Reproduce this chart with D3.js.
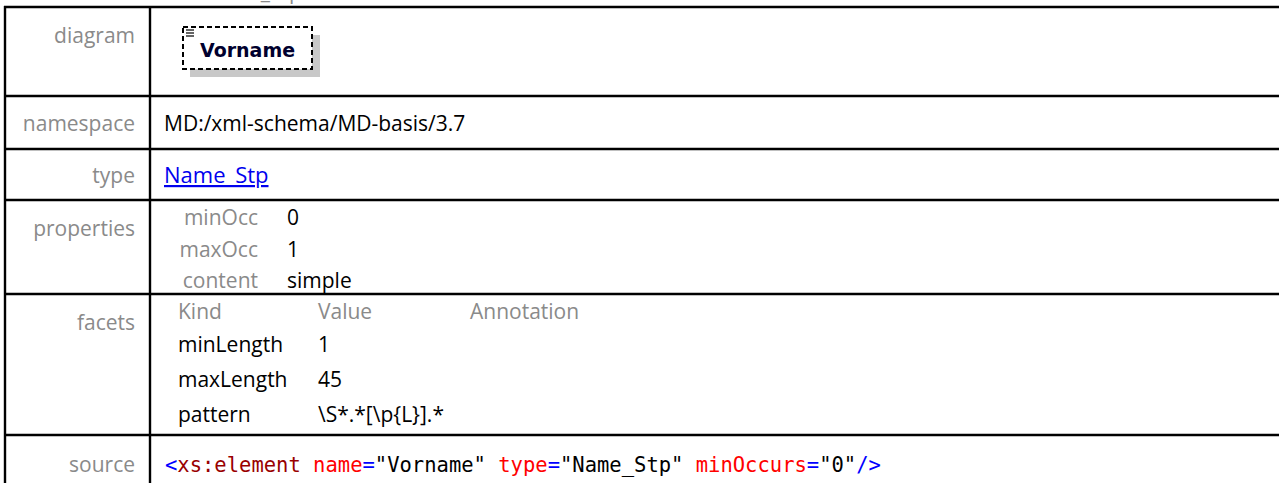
<!DOCTYPE html>
<html><head><meta charset="utf-8">
<script src="https://cdn.jsdelivr.net/npm/d3@7"></script>
<style>html,body{margin:0;padding:0;background:#fff;overflow:hidden}</style>
</head><body>
<svg id="c" width="1279" height="483"></svg>
<script>
// ---- data ----
const titleText = "element Personendaten_Stp/Name/Vorname";
const rowLabels = ["diagram", "namespace", "type", "properties", "facets", "source"];
const elementName = "Vorname";
const namespaceValue = "MD:/xml-schema/MD-basis/3.7";
const typeValue = "Name_Stp";
const propNames = ["minOcc", "maxOcc", "content"];
const propValues = ["0", "1", "simple"];
const facetHeaders = ["Kind", "Value", "Annotation"];
const facetKinds = ["minLength", "maxLength", "pattern"];
const facetValues = ["1", "45", "\\S*.*[\\p{L}].*"];
const sourceTokens = [
  ["<", "sym"], ["xs:element", "tag"], [" ", "txt"], ["name", "attr"], ["=", "sym"], ["\"Vorname\"", "txt"],
  [" ", "txt"], ["type", "attr"], ["=", "sym"], ["\"Name_Stp\"", "txt"], [" ", "txt"],
  ["minOccurs", "attr"], ["=", "sym"], ["\"0\"", "txt"], ["/>", "sym"]
];

// ---- layout ----
const W = 1279, H = 483;
const rowEdges = [7, 96, 149, 200, 294, 435];
const labelBase = [43, 131, 183, 236, 330, 472];
const yRow = d3.scaleOrdinal(rowLabels, rowEdges);
const yBase = d3.scaleOrdinal(rowLabels, labelBase);
const xLeft = 5, xDiv = 150, xLabelRight = 135, xVal = 164;
const font = "'Open Sans', sans-serif";
const grey = "#8a8a8a";
const codeColor = {sym: "#0000ff", tag: "#990000", attr: "#ff0000", txt: "#000000"};

const svg = d3.select("#c");
svg.append("rect").attr("width", W).attr("height", H).attr("fill", "#fff");

// title fragment (cut off at top, as in the reference)
svg.append("text").attr("x", 25).attr("y", -1).attr("font-family", font).attr("font-size", 21)
  .attr("fill", grey).text(titleText);

// grid lines
const g = svg.append("g").attr("stroke", "#000").attr("stroke-width", 2.4);
g.selectAll("line.h").data(rowLabels).join("line").attr("class", "h")
  .attr("x1", xLeft - 1).attr("x2", W).attr("y1", d => yRow(d)).attr("y2", d => yRow(d));
g.append("line").attr("x1", xLeft).attr("x2", xLeft).attr("y1", rowEdges[0] - 1).attr("y2", H);
g.append("line").attr("x1", xDiv).attr("x2", xDiv).attr("y1", rowEdges[0] - 1).attr("y2", H);

// row labels
svg.selectAll("text.lbl").data(rowLabels).join("text").attr("class", "lbl")
  .attr("x", xLabelRight).attr("y", d => yBase(d)).attr("text-anchor", "end")
  .attr("font-family", font).attr("font-size", 21).attr("fill", grey).text(d => d);

// diagram
const dg = svg.append("g");
dg.append("rect").attr("x", 190).attr("y", 35).attr("width", 130).attr("height", 42).attr("fill", "#c8c8c8");
dg.append("rect").attr("x", 183).attr("y", 27).attr("width", 129).attr("height", 42).attr("fill", "#fff")
  .attr("stroke", "#000").attr("stroke-width", 2).attr("stroke-dasharray", "5,3");
[30, 33, 36].forEach((yy, i) => dg.append("line").attr("x1", 186).attr("x2", 194)
  .attr("y1", yy).attr("y2", yy).attr("stroke", "#222").attr("stroke-width", 1.4));
dg.append("text").attr("x", 200).attr("y", 57).attr("font-family", "'DejaVu Sans', sans-serif")
  .attr("font-weight", "bold").attr("font-size", 19).attr("fill", "#00002e").text(elementName);

// namespace
svg.append("text").attr("x", xVal).attr("y", yBase("namespace")).attr("font-family", font)
  .attr("font-size", 21).attr("fill", "#000").text(namespaceValue);
// type
svg.append("text").attr("x", xVal).attr("y", yBase("type")).attr("font-family", font)
  .attr("font-size", 22).attr("fill", "#0000ee").attr("text-decoration", "underline").text(typeValue);

// properties
const propY = d3.scalePoint(propNames, [225, 288]);
svg.selectAll("text.pn").data(propNames).join("text").attr("class", "pn")
  .attr("x", 258).attr("y", d => propY(d)).attr("text-anchor", "end")
  .attr("font-family", font).attr("font-size", 21).attr("fill", grey).text(d => d);
svg.selectAll("text.pv").data(propValues).join("text").attr("class", "pv")
  .attr("x", 287).attr("y", (d, i) => propY(propNames[i]))
  .attr("font-family", font).attr("font-size", 21).attr("fill", "#000").text(d => d);

// facets
const facetX = [178, 318, 470];
svg.selectAll("text.fh").data(facetHeaders).join("text").attr("class", "fh")
  .attr("x", (d, i) => facetX[i]).attr("y", 319)
  .attr("font-family", font).attr("font-size", 21).attr("fill", grey).text(d => d);
const facetY = d3.scalePoint(facetKinds, [352, 422]);
svg.selectAll("text.fk").data(facetKinds).join("text").attr("class", "fk")
  .attr("x", facetX[0]).attr("y", d => facetY(d))
  .attr("font-family", font).attr("font-size", 21).attr("fill", "#000").text(d => d);
svg.selectAll("text.fv").data(facetValues).join("text").attr("class", "fv")
  .attr("x", facetX[1]).attr("y", (d, i) => facetY(facetKinds[i]))
  .attr("font-family", font).attr("font-size", 21).attr("fill", "#000").text(d => d);

// source
const src = svg.append("text").attr("x", 165).attr("y", yBase("source"))
  .attr("font-family", "'DejaVu Sans Mono', monospace").attr("font-size", 20.5)
  .attr("xml:space", "preserve").style("white-space", "pre");
src.selectAll("tspan").data(sourceTokens).join("tspan")
  .attr("fill", d => codeColor[d[1]]).text(d => d[0]);
</script>
</body></html>
